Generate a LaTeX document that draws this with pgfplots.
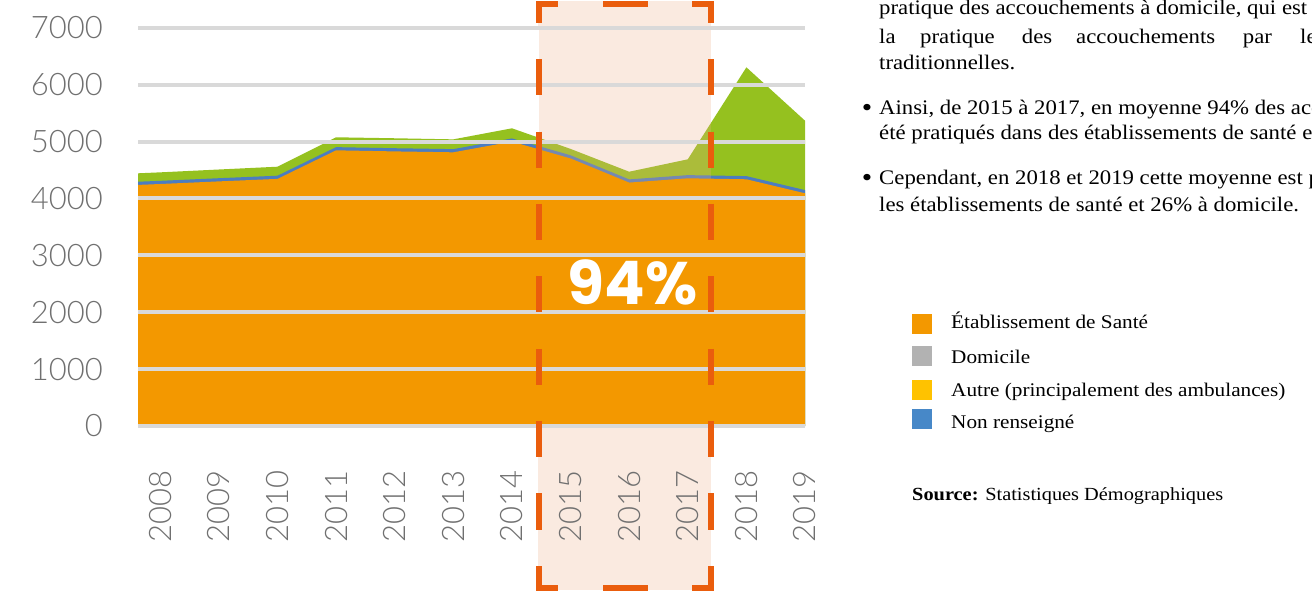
\documentclass[border=0pt]{standalone}
\usepackage{fontspec}
\usepackage{pgfplots}
\usepackage{pgfplotstable}
\pgfplotsset{compat=1.18}
\setmainfont{Liberation Serif}[FakeStretch=1.1]
\newfontfamily\lightfont{Lato Light}
\newfontfamily\boldsans{Poppins}

\definecolor{orangeA}{RGB}{243,152,0}
\definecolor{greenA}{RGB}{149,193,31}
\definecolor{blueA}{RGB}{76,125,192}
\definecolor{gridc}{RGB}{217,217,217}
\definecolor{pinkbox}{RGB}{250,234,224}
\definecolor{overlayc}{RGB}{236,174,136}
\definecolor{boxedge}{RGB}{234,93,13}
\definecolor{tickc}{RGB}{112,112,112}
\definecolor{legorange}{RGB}{243,152,0}
\definecolor{leggrey}{RGB}{178,178,178}
\definecolor{legyellow}{RGB}{255,194,0}
\definecolor{legblue}{RGB}{71,136,200}

% x  green(top)  blue(top)  orange(top)
\pgfplotstableread{
x       g     b     o
2007.62 4441  4293  4237
2008    4458  4309  4253
2009    4508  4355  4299
2010    4557  4399  4343
2011    5074  4901  4845
2012    5057  4882  4826
2013    5038  4866  4810
2014    5232  5054  4998
2015    4870  4758  4702
2016    4469  4334  4278
2017    4687  4409  4353
2018    6304  4392  4336
2019    5366  4146  4090
}\births

\newcommand{\bodyfont}{\fontsize{20.7}{26}\selectfont}
\newcommand{\legfont}{\fontsize{19.3}{22}\selectfont}
\newcommand{\bul}{{\fontsize{27}{26}\selectfont\textbullet}}

\begin{document}
\begin{tikzpicture}[x=1pt,y=1pt]
\path[use as bounding box] (0,0) rectangle (1312,592);
% highlight box parts outside the plot area
\fill[pinkbox] (538,564.3) rectangle (711,591);
\fill[pinkbox] (538,2) rectangle (711,166);

\begin{axis}[
  at={(138pt,166pt)}, anchor=south west,
  scale only axis, width=667pt, height=398.3pt,
  xmin=2007.62, xmax=2019, ymin=0, ymax=7000,
  axis on top,
  ymajorgrids, grid style={gridc, line width=4pt},
  axis line style={draw=none},
  major tick length=0pt,
  xtick={2008,2009,...,2019},
  ytick={0,1000,...,7000},
  /pgf/number format/1000 sep={},
  /pgf/number format/assume math mode=true,
  yticklabel style={font=\lightfont\fontsize{31}{31}\selectfont, text=tickc, anchor=east, inner sep=0pt},
  yticklabel shift=35pt,
  xticklabel style={font=\lightfont\fontsize{31}{31}\selectfont, text=tickc, rotate=90, anchor=east, inner sep=0pt},
  xticklabel shift=44pt,
  clip=true,
]
\addplot[draw=none, fill=greenA] table[x=x, y=g] {\births} \closedcycle;
\addplot[draw=none, fill=blueA] table[x=x, y=b] {\births} \closedcycle;
\fill[overlayc, opacity=0.26] (axis cs:2014.462,0) rectangle (axis cs:2017.398,7000);
\addplot[draw=none, fill=orangeA] table[x=x, y=o] {\births} \closedcycle;
\end{axis}

% dashed highlight border
\begin{scope}[boxedge, line width=6pt, line cap=butt, line join=miter]
\draw (539,569.3) -- (539,588) -- (558,588);
\draw (692,588) -- (711,588) -- (711,569.3);
\draw (539,26) -- (539,4.5) -- (558,4.5);
\draw (692,4.5) -- (711,4.5) -- (711,26);
\draw (603,588) -- (648,588);
\draw (603,4.5) -- (648,4.5);
\foreach \s in {59.3,131.7,204,276.5,349,421,493.5}{
  \draw (539,592-\s) -- (539,592-\s-36);
  \draw (711,592-\s) -- (711,592-\s-36);
}
\end{scope}

\node[anchor=base, inner sep=0pt, text=white] at (632.5,287) {\boldsans\bfseries\fontsize{60}{60}\selectfont 94\%};

% right-hand text
\begin{scope}
\clip (0,0) rectangle (1312,592);
\node[anchor=base west, inner sep=0pt] at (879,577) {\bodyfont pratique des accouchements à domicile, qui est souvent};
\node[anchor=base west, inner sep=0pt] at (879,548.7) {\bodyfont la};
\node[anchor=base west, inner sep=0pt] at (920,548.7) {\bodyfont pratique};
\node[anchor=base west, inner sep=0pt] at (1021.7,548.7) {\bodyfont des};
\node[anchor=base west, inner sep=0pt] at (1076,548.7) {\bodyfont accouchements};
\node[anchor=base west, inner sep=0pt] at (1242.7,548.7) {\bodyfont par};
\node[anchor=base west, inner sep=0pt] at (1300,548.7) {\bodyfont les accoucheuses};
\node[anchor=base west, inner sep=0pt] at (879,522) {\bodyfont traditionnelles.};
\node[anchor=base, inner sep=0pt] at (867,475.5) {\bul};
\node[anchor=base west, inner sep=0pt] at (879,477) {\bodyfont Ainsi, de 2015 à 2017, en moyenne 94\% des accouchements ont};
\node[anchor=base west, inner sep=0pt] at (879,452) {\bodyfont été pratiqués dans des établissements de santé et 6\% à domicile.};
\node[anchor=base, inner sep=0pt] at (867,405.5) {\bul};
\node[anchor=base west, inner sep=0pt] at (879,407) {\bodyfont Cependant, en 2018 et 2019 cette moyenne est passée à 74\% dans};
\node[anchor=base west, inner sep=0pt] at (879,380.3) {\bodyfont les établissements de santé et 26\% à domicile.};
\end{scope}

% legend
\fill[legorange] (912,258) rectangle (932,278);
\fill[leggrey] (912,225.5) rectangle (932,245.5);
\fill[legyellow] (912,192.3) rectangle (932,212.3);
\fill[legblue] (912,162.5) rectangle (932,182.5);
\node[anchor=base west, inner sep=0pt] at (951,263) {\legfont Établissement de Santé};
\node[anchor=base west, inner sep=0pt] at (951,228.7) {\legfont Domicile};
\node[anchor=base west, inner sep=0pt] at (951,195.3) {\legfont Autre (principalement des ambulances)};
\node[anchor=base west, inner sep=0pt] at (951,163.7) {\legfont Non renseigné};
\node[anchor=base west, inner sep=0pt] at (912,91.3) {\fontsize{18.5}{21}\selectfont\textbf{Source:} Statistiques Démographiques};
\end{tikzpicture}
\end{document}
